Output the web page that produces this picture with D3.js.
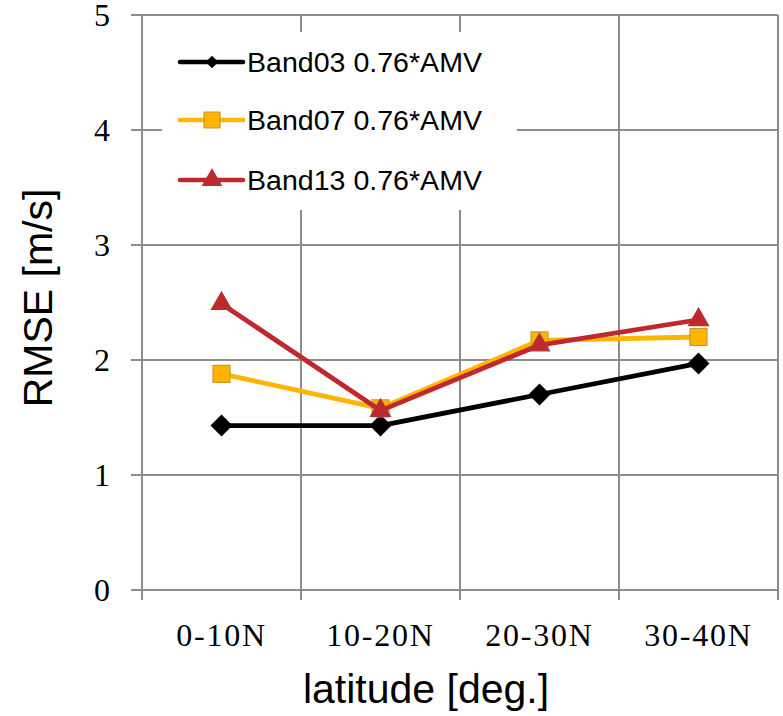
<!DOCTYPE html>
<html>
<head>
<meta charset="utf-8">
<script src="https://cdn.jsdelivr.net/npm/d3@7"></script>
<style>
  body { margin: 0; background: #fff; }
  svg { display: block; }
</style>
</head>
<body>
<div id="chart"></div>
<script>
// chart data
const categories = ["0-10N", "10-20N", "20-30N", "30-40N"];
const seriesNames = ["Band03 0.76*AMV", "Band07 0.76*AMV", "Band13 0.76*AMV"];
const band03 = [1.43, 1.43, 1.70, 1.97];
const band07 = [1.88, 1.58, 2.17, 2.20];
const band13 = [2.49, 1.56, 2.13, 2.35];
const yTicks = [0, 1, 2, 3, 4, 5];

const W = 783, H = 716;
const margin = { top: 15, right: 5, bottom: 126, left: 142 };
const width = W - margin.left - margin.right;
const height = H - margin.top - margin.bottom;
const gridColor = "#8c8c8c";

const series = [
  { name: seriesNames[0], values: band03, color: "#000000", stroke: "#000000", symbol: "diamond" },
  { name: seriesNames[1], values: band07, color: "#ffb400", stroke: "#c99a2a", symbol: "square" },
  { name: seriesNames[2], values: band13, color: "#c0282d", stroke: "#a8383a", symbol: "triangle" }
];

const svg = d3.select("#chart").append("svg")
  .attr("width", W)
  .attr("height", H);

const g = svg.append("g")
  .attr("transform", `translate(${margin.left},${margin.top})`);

const x = d3.scaleBand().domain(categories).range([0, width]).padding(0);
const y = d3.scaleLinear().domain([0, 5]).range([height, 0]);

// horizontal gridlines (with a short tick stub on the left)
g.append("g").selectAll("line")
  .data(yTicks)
  .join("line")
  .attr("x1", -11)
  .attr("x2", width)
  .attr("y1", d => y(d))
  .attr("y2", d => y(d))
  .attr("stroke", gridColor)
  .attr("stroke-width", 2);

// vertical category boundaries, extending below the axis
const bounds = categories.map(c => x(c)).concat([x.range()[1]]);
g.append("g").selectAll("line")
  .data(bounds)
  .join("line")
  .attr("x1", d => d)
  .attr("x2", d => d)
  .attr("y1", 0)
  .attr("y2", height + 10)
  .attr("stroke", gridColor)
  .attr("stroke-width", 2);

// y tick labels
const yAxis = g.append("g")
  .call(d3.axisLeft(y).tickValues(yTicks).tickSize(0).tickPadding(32).tickFormat(d3.format("d")));
yAxis.select(".domain").remove();
yAxis.selectAll("text")
  .attr("font-family", "'Liberation Serif', 'DejaVu Serif', serif")
  .attr("font-size", 32)
  .attr("fill", "#000")
  .attr("dy", "0.34em");

// x tick labels
const xAxis = g.append("g")
  .attr("transform", `translate(0,${height})`)
  .call(d3.axisBottom(x).tickSize(0).tickPadding(56));
xAxis.select(".domain").remove();
xAxis.selectAll("text")
  .attr("font-family", "'Liberation Serif', 'DejaVu Serif', serif")
  .attr("font-size", 32)
  .attr("letter-spacing", 1.8)
  .attr("fill", "#000")
  .attr("dy", 0);

// legend background box (hides grid behind it)
const legend = g.append("g");
legend.append("rect")
  .attr("x", 20)
  .attr("y", 17)
  .attr("width", 355)
  .attr("height", 178)
  .attr("fill", "#fff");

function symbolPath(kind, big) {
  if (kind === "diamond") return d3.symbol(d3.symbolSquare, big ? 240 : 80)();
  if (kind === "square") return d3.symbol(d3.symbolSquare, big ? 289 : 256)();
  return d3.symbol(d3.symbolTriangle, big ? 175 : 150)();
}

function drawMarker(sel, s, big) {
  sel.append("path")
    .attr("d", symbolPath(s.symbol, big))
    .attr("fill", s.color)
    .attr("stroke", s.stroke)
    .attr("stroke-width", s.symbol === "diamond" ? 0 : 1.2)
    .attr("transform", s.symbol === "diamond" ? "rotate(45)" : null);
}

const legendRows = [47, 105, 165];
series.forEach((s, i) => {
  const row = legend.append("g").attr("transform", `translate(0,${legendRows[i]})`);
  row.append("line")
    .attr("x1", 38).attr("x2", 101)
    .attr("y1", 0).attr("y2", 0)
    .attr("stroke", s.color)
    .attr("stroke-width", 4.5)
    .attr("stroke-linecap", "round");
  drawMarker(row.append("g").attr("transform", "translate(70,0)"), s, false);
  row.append("text")
    .attr("x", 105)
    .attr("y", 9.5)
    .attr("font-family", "'Liberation Sans', Arial, sans-serif")
    .attr("font-size", 27)
    .attr("textLength", 235)
    .attr("lengthAdjust", "spacingAndGlyphs")
    .attr("fill", "#000")
    .text(s.name);
});

// series lines and markers
const cx = c => x(c) + x.bandwidth() / 2;
const line = d3.line()
  .x((d, i) => cx(categories[i]))
  .y(d => y(d));

series.forEach(s => {
  g.append("path")
    .datum(s.values)
    .attr("d", line)
    .attr("fill", "none")
    .attr("stroke", s.color)
    .attr("stroke-width", 4.8)
    .attr("stroke-linejoin", "round");

  s.values.forEach((v, i) => {
    drawMarker(
      g.append("g").attr("transform", `translate(${cx(categories[i])},${y(v)})`),
      s, true);
  });
});

// axis titles
svg.append("text")
  .attr("transform", `translate(52,${margin.top + 283}) rotate(-90)`)
  .attr("text-anchor", "middle")
  .attr("font-family", "'Liberation Sans', Arial, sans-serif")
  .attr("font-size", 41)
  .attr("fill", "#000")
  .text("RMSE [m/s]");

svg.append("text")
  .attr("x", 426)
  .attr("y", 703)
  .attr("text-anchor", "middle")
  .attr("font-family", "'Liberation Sans', Arial, sans-serif")
  .attr("font-size", 41)
  .attr("fill", "#000")
  .text("latitude [deg.]");
</script>
</body>
</html>
